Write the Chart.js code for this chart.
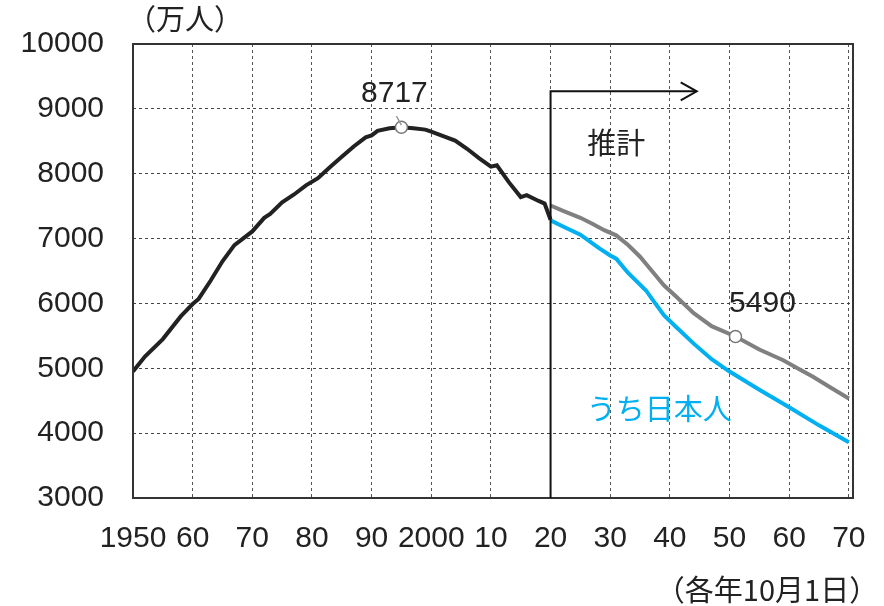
<!DOCTYPE html>
<html>
<head>
<meta charset="utf-8">
<script src="https://cdn.jsdelivr.net/npm/chart.js@4"></script>
<style>
  html, body { margin: 0; padding: 0; background: #fff; }
  #wrap { width: 884px; height: 606px; position: relative; }
</style>
</head>
<body>
<div id="wrap"><canvas id="popChart"></canvas></div>
<script>
// 実績（生産年齢人口, 万人）
const pastYears  = [1950, 1952, 1955, 1958, 1960, 1961, 1963, 1965, 1967, 1970, 1972, 1973, 1975, 1977, 1979, 1981, 1983, 1985, 1987, 1989, 1990, 1991, 1993, 1995, 1997, 1999, 2000, 2002, 2004, 2006, 2008, 2010, 2011, 2013, 2015, 2016, 2018, 2019, 2020];
const pastValues = [4950, 5180, 5450, 5800, 5990, 6070, 6350, 6650, 6900, 7110, 7320, 7380, 7560, 7680, 7820, 7930, 8100, 8260, 8420, 8560, 8590, 8660, 8700, 8717, 8700, 8680, 8650, 8580, 8510, 8385, 8240, 8110, 8130, 7870, 7640, 7670, 7580, 7540, 7290];

// 推計（総数）
const projYears  = [2020, 2022, 2025, 2027, 2029, 2031, 2033, 2035, 2037, 2039, 2041, 2044, 2047, 2051, 2055, 2059, 2062, 2064, 2067, 2070];
const projTotal  = [7510, 7430, 7320, 7230, 7130, 7050, 6900, 6720, 6500, 6280, 6110, 5850, 5650, 5490, 5290, 5125, 4970, 4870, 4700, 4535];

// 推計（うち日本人）
const jpYears    = [2020, 2022, 2025, 2028, 2030, 2031, 2033, 2036, 2037, 2039, 2041, 2044, 2047, 2050, 2055, 2060, 2065, 2070];
const jpValues   = [7280, 7190, 7060, 6860, 6740, 6690, 6470, 6200, 6070, 5820, 5640, 5380, 5140, 4950, 4670, 4400, 4120, 3860];

// 注記する点
const markYears  = [1995, 2051];
const markValues = [8717, 5490];

const tickYears  = [1950, 1960, 1970, 1980, 1990, 2000, 2010, 2020, 2030, 2040, 2050, 2060, 2070];
const tickLabels = ['1950', '60', '70', '80', '90', '2000', '10', '20', '30', '40', '50', '60', '70'];

const toXY = (xs, ys) => xs.map((x, i) => ({ x: x, y: ys[i] }));

const FONT = '"Liberation Sans", Arial, sans-serif';
const JPFONT = '"Noto Sans CJK JP", sans-serif';

const extras = {
  id: 'extras',
  afterDatasetsDraw(chart) {
    const { ctx, chartArea: a, scales: { x, y } } = chart;
    ctx.save();
    // 枠
    ctx.strokeStyle = '#333';
    ctx.lineWidth = 2;
    ctx.strokeRect(a.left, a.top, a.right - a.left, a.bottom - a.top);

    // 推計の矢印
    const x0 = x.getPixelForValue(2020);
    const yTop = y.getPixelForValue(9270);
    const xEnd = x.getPixelForValue(2044.5);
    ctx.strokeStyle = '#111';
    ctx.lineWidth = 2;
    ctx.beginPath();
    ctx.moveTo(x0, a.bottom);
    ctx.lineTo(x0, yTop);
    ctx.lineTo(xEnd, yTop);
    ctx.stroke();
    ctx.beginPath();
    ctx.moveTo(xEnd - 16, yTop - 9);
    ctx.lineTo(xEnd, yTop);
    ctx.lineTo(xEnd - 16, yTop + 9);
    ctx.stroke();

    // 8717 の引き出し線
    const px = x.getPixelForValue(1995), py = y.getPixelForValue(8717);
    ctx.strokeStyle = '#999';
    ctx.lineWidth = 1.5;
    ctx.beginPath();
    ctx.moveTo(px - 5, py - 11);
    ctx.lineTo(px, py - 2);
    ctx.stroke();

    ctx.textAlign = 'center';
    ctx.textBaseline = 'middle';
    ctx.fillStyle = '#222';
    ctx.font = '30px ' + FONT;
    ctx.fillText('8717', px - 7, py - 33);
    const qx = x.getPixelForValue(2051), qy = y.getPixelForValue(5490);
    ctx.fillText('5490', qx + 27, qy - 33);

    ctx.font = '29px ' + JPFONT;
    ctx.fillText('推計', x.getPixelForValue(2031), y.getPixelForValue(8470));

    ctx.fillStyle = '#00b0f0';
    ctx.font = '29px ' + JPFONT;
    ctx.fillText('うち日本人', x.getPixelForValue(2038.2), y.getPixelForValue(4370));

    ctx.fillStyle = '#222';
    ctx.font = '29px ' + JPFONT;
    ctx.fillText('（万人）', 185, 19);
    ctx.fillText('（各年10月1日）', 767, 590);
    ctx.restore();
  }
};

new Chart(document.getElementById('popChart'), {
  type: 'line',
  data: {
    datasets: [
      { label: '実績', data: toXY(pastYears, pastValues), borderColor: '#222', borderWidth: 4, pointRadius: 0, tension: 0, order: 3 },
      { label: '推計', data: toXY(projYears, projTotal), borderColor: '#808080', borderWidth: 4, pointRadius: 0, tension: 0, order: 2 },
      { label: 'うち日本人', data: toXY(jpYears, jpValues), borderColor: '#00b0f0', borderWidth: 4, pointRadius: 0, tension: 0, order: 1 },
      { label: 'mark', data: toXY(markYears, markValues), showLine: false, pointRadius: 6, pointBackgroundColor: '#fff', pointBorderColor: '#777', pointBorderWidth: 1.5, order: 0 }
    ]
  },
  options: {
    responsive: true,
    maintainAspectRatio: false,
    animation: false,
    layout: { padding: { top: 44, right: 31, bottom: 0, left: 0 } },
    plugins: { legend: { display: false }, tooltip: { enabled: false } },
    scales: {
      x: {
        type: 'linear',
        min: 1950,
        max: 2070.7,
        afterBuildTicks: (s) => { s.ticks = tickYears.map(v => ({ value: v })); },
        afterFit: (s) => { s.height = 108; s.paddingLeft = 0; s.paddingRight = 0; },
        ticks: {
          autoSkip: false,
          maxRotation: 0,
          padding: 23,
          color: '#222',
          font: { family: FONT, size: 30 },
          callback: (v) => tickLabels[tickYears.indexOf(v)]
        },
        grid: { color: '#555', lineWidth: 1, drawTicks: false },
        border: { display: false, dash: [3, 3] }
      },
      y: {
        min: 3000,
        max: 10000,
        afterFit: (s) => { s.width = 133; s.paddingTop = 0; s.paddingBottom = 0; },
        ticks: {
          stepSize: 1000,
          padding: 29,
          color: '#222',
          font: { family: FONT, size: 30 },
          callback: (v) => String(v)
        },
        grid: { color: '#444', lineWidth: 1, drawTicks: false },
        border: { display: false, dash: [3, 3] }
      }
    }
  },
  plugins: [extras]
});
</script>
</body>
</html>
